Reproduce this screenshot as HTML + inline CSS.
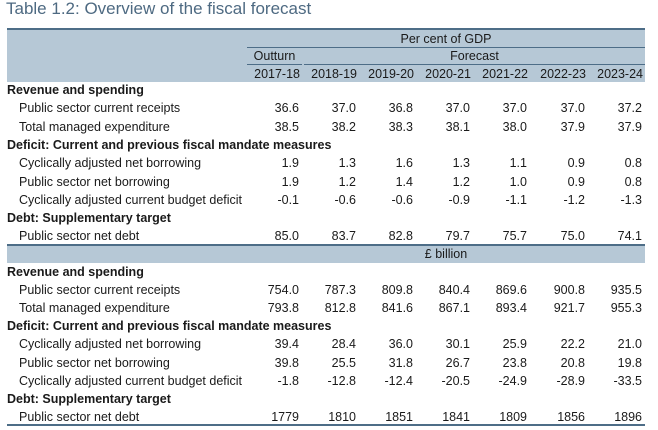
<!DOCTYPE html>
<html><head><meta charset="utf-8"><style>
body{margin:0;width:658px;height:430px;background:#fff;position:relative;overflow:hidden;font-family:"Liberation Sans",sans-serif;color:#1a1a1a}
.a{position:absolute;white-space:nowrap}
.t{font-size:12.5px;line-height:14px}
.b{font-weight:bold}
.r{text-align:right;width:60px}
.c{text-align:center}
.ln{position:absolute;background:#4d6d87}
</style></head><body>
<div class="a" style="left:6px;top:-1px;font-size:17px;color:#4e6a82">Table 1.2: Overview of the fiscal forecast</div>
<div class="a" style="left:7px;top:28px;width:638px;height:54px;background:#b6c8d6"></div>
<div class="ln" style="left:7px;top:28px;width:638px;height:2px"></div>
<div class="a t c" style="left:247px;top:32px;width:398px">Per cent of GDP</div>
<div class="ln" style="left:247px;top:47px;width:398px;height:1px"></div>
<div class="a t c" style="left:247px;top:49px;width:55px">Outturn</div>
<div class="a t c" style="left:304px;top:49px;width:341px">Forecast</div>
<div class="ln" style="left:247px;top:64px;width:55px;height:1px"></div>
<div class="ln" style="left:304px;top:64px;width:341px;height:1px"></div>
<div class="ln" style="left:7px;top:244px;width:638px;height:2px"></div>
<div class="a" style="left:7px;top:246px;width:638px;height:17px;background:#b6c8d6"></div>
<div class="a t c" style="left:247px;top:247px;width:398px">£ billion</div>
<div class="ln" style="left:7px;top:424px;width:638px;height:2px"></div>
<div id="root"></div>
<script>
const years=["2017-18","2018-19","2019-20","2020-21","2021-22","2022-23","2023-24"];
const colRight=[300,357,414,471,528,586,643];
const upperRows=[
["h","Revenue and spending"],
["r","Public sector current receipts",["36.6","37.0","36.8","37.0","37.0","37.0","37.2"]],
["r","Total managed expenditure",["38.5","38.2","38.3","38.1","38.0","37.9","37.9"]],
["h","Deficit: Current and previous fiscal mandate measures"],
["r","Cyclically adjusted net borrowing",["1.9","1.3","1.6","1.3","1.1","0.9","0.8"]],
["r","Public sector net borrowing",["1.9","1.2","1.4","1.2","1.0","0.9","0.8"]],
["r","Cyclically adjusted current budget deficit",["-0.1","-0.6","-0.6","-0.9","-1.1","-1.2","-1.3"]],
["h","Debt: Supplementary target"],
["r","Public sector net debt",["85.0","83.7","82.8","79.7","75.7","75.0","74.1"]]];
const lowerRows=[
["h","Revenue and spending"],
["r","Public sector current receipts",["754.0","787.3","809.8","840.4","869.6","900.8","935.5"]],
["r","Total managed expenditure",["793.8","812.8","841.6","867.1","893.4","921.7","955.3"]],
["h","Deficit: Current and previous fiscal mandate measures"],
["r","Cyclically adjusted net borrowing",["39.4","28.4","36.0","30.1","25.9","22.2","21.0"]],
["r","Public sector net borrowing",["39.8","25.5","31.8","26.7","23.8","20.8","19.8"]],
["r","Cyclically adjusted current budget deficit",["-1.8","-12.8","-12.4","-20.5","-24.9","-28.9","-33.5"]],
["h","Debt: Supplementary target"],
["r","Public sector net debt",["1779","1810","1851","1841","1809","1856","1896"]]];
const root=document.getElementById('root');
function mk(cls,txt,x,y,name){const d=document.createElement('div');d.className='a t '+cls;d.textContent=txt;d.style.left=x+'px';d.style.top=y+'px';


root.appendChild(d);return d;}
years.forEach((y,i)=>{mk('r',y,colRight[i]-60,67,'year-header-'+y);});
function draw(rows,y0,pitch,sec){rows.forEach((row,i)=>{const y=y0+i*pitch-7;
if(row[0]==='h'){mk('b',row[1],7,y,sec+'-section-heading');}
else{mk('',row[1],19,y,sec+'-row-label');row[2].forEach((v,j)=>{mk('r',v,colRight[j]-61,y,sec+'-value-'+years[j]);});}});}
draw(upperRows,90,18.3,'gdp');
draw(lowerRows,272,18.1,'billion');
</script>
</body></html>
